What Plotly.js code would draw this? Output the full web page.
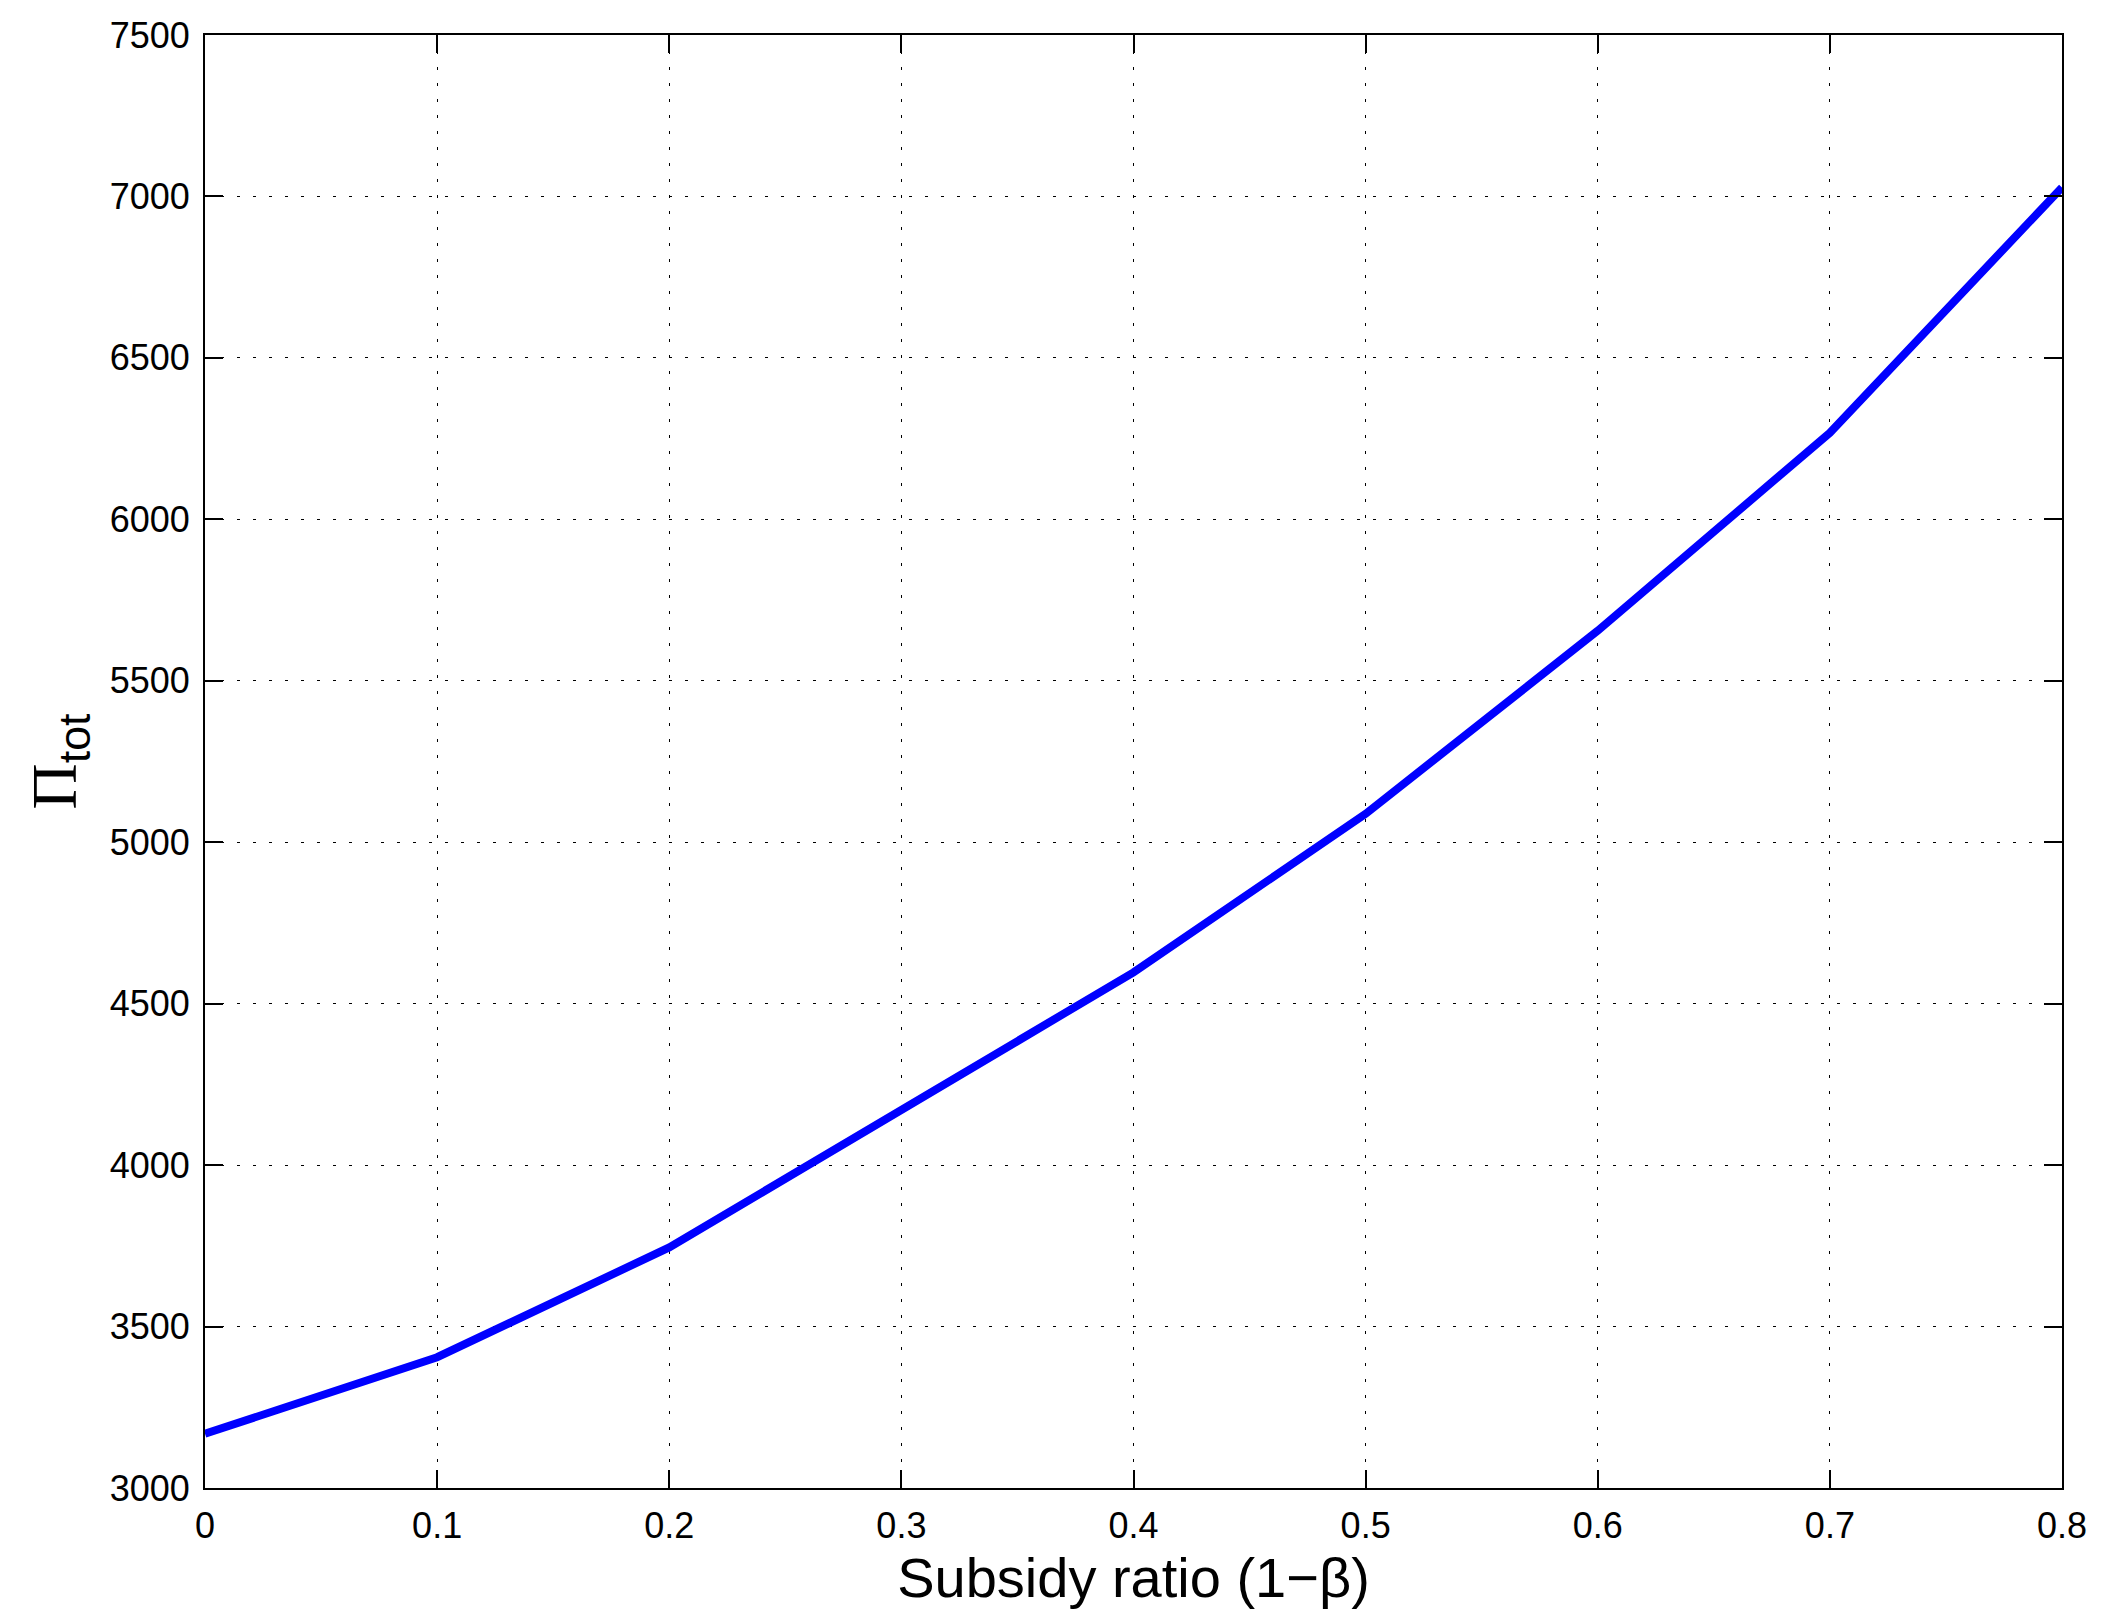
<!DOCTYPE html>
<html>
<head>
<meta charset="utf-8">
<script src="https://cdn.plot.ly/plotly-3.0.1.min.js"></script>
<style>
  html, body { margin: 0; padding: 0; background: #ffffff; }
  #chart { width: 2105px; height: 1618px; }
</style>
</head>
<body>
<div id="chart"></div>
<script>
// Subsidy ratio (1-beta) on x, total profit on y
const subsidyRatio = [0, 0.1, 0.2, 0.3, 0.4, 0.5, 0.6, 0.7, 0.8];
const piTot = [3168, 3405, 3745, 4168, 4597, 5088, 5655, 6268, 7028];

const xTicks = [0, 0.1, 0.2, 0.3, 0.4, 0.5, 0.6, 0.7, 0.8];
const yTicks = [3000, 3500, 4000, 4500, 5000, 5500, 6000, 6500, 7000, 7500];

const axisFont = { family: 'Liberation Sans, Arial, sans-serif', size: 36, color: '#000000' };

const trace = {
    x: subsidyRatio,
    y: piTot,
    type: 'scatter',
    mode: 'lines',
    line: { color: '#0000ff', width: 8 },
    hoverinfo: 'x+y'
};

const axisBase = {
    showline: true,
    linecolor: '#000000',
    linewidth: 2,
    mirror: 'ticks',
    ticks: 'inside',
    ticklen: 18,
    tickwidth: 2,
    tickcolor: '#000000',
    tickfont: axisFont,
    showgrid: true,
    gridcolor: '#000000',
    gridwidth: 1,
    griddash: '3px,13px',
    zeroline: false
};

const layout = {
    width: 2105,
    height: 1618,
    paper_bgcolor: '#ffffff',
    plot_bgcolor: '#ffffff',
    showlegend: false,
    margin: { l: 205, r: 43, t: 35, b: 130 },
    xaxis: Object.assign({}, axisBase, {
        range: [0, 0.8],
        tickvals: xTicks,
        ticktext: xTicks.map(v => String(v)),
        ticklabelstandoff: 5,
        title: {
            text: 'Subsidy ratio (1\u2212\u03b2)',
            font: { family: 'Liberation Sans, Arial, sans-serif', size: 56, color: '#000000' },
            standoff: 0
        }
    }),
    yaxis: Object.assign({}, axisBase, {
        range: [3000, 7500],
        tickvals: yTicks,
        ticktext: yTicks.map(v => String(v)),
        ticklabelstandoff: 6,
        title: {
            text: '<span style="font-family:Liberation Serif">\u03a0</span><sub>tot</sub>',
            font: { family: 'Liberation Sans, Arial, sans-serif', size: 64, color: '#000000' },
            standoff: 12
        }
    })
};

Plotly.newPlot('chart', [trace], layout, { displayModeBar: false, responsive: false });
</script>
</body>
</html>
